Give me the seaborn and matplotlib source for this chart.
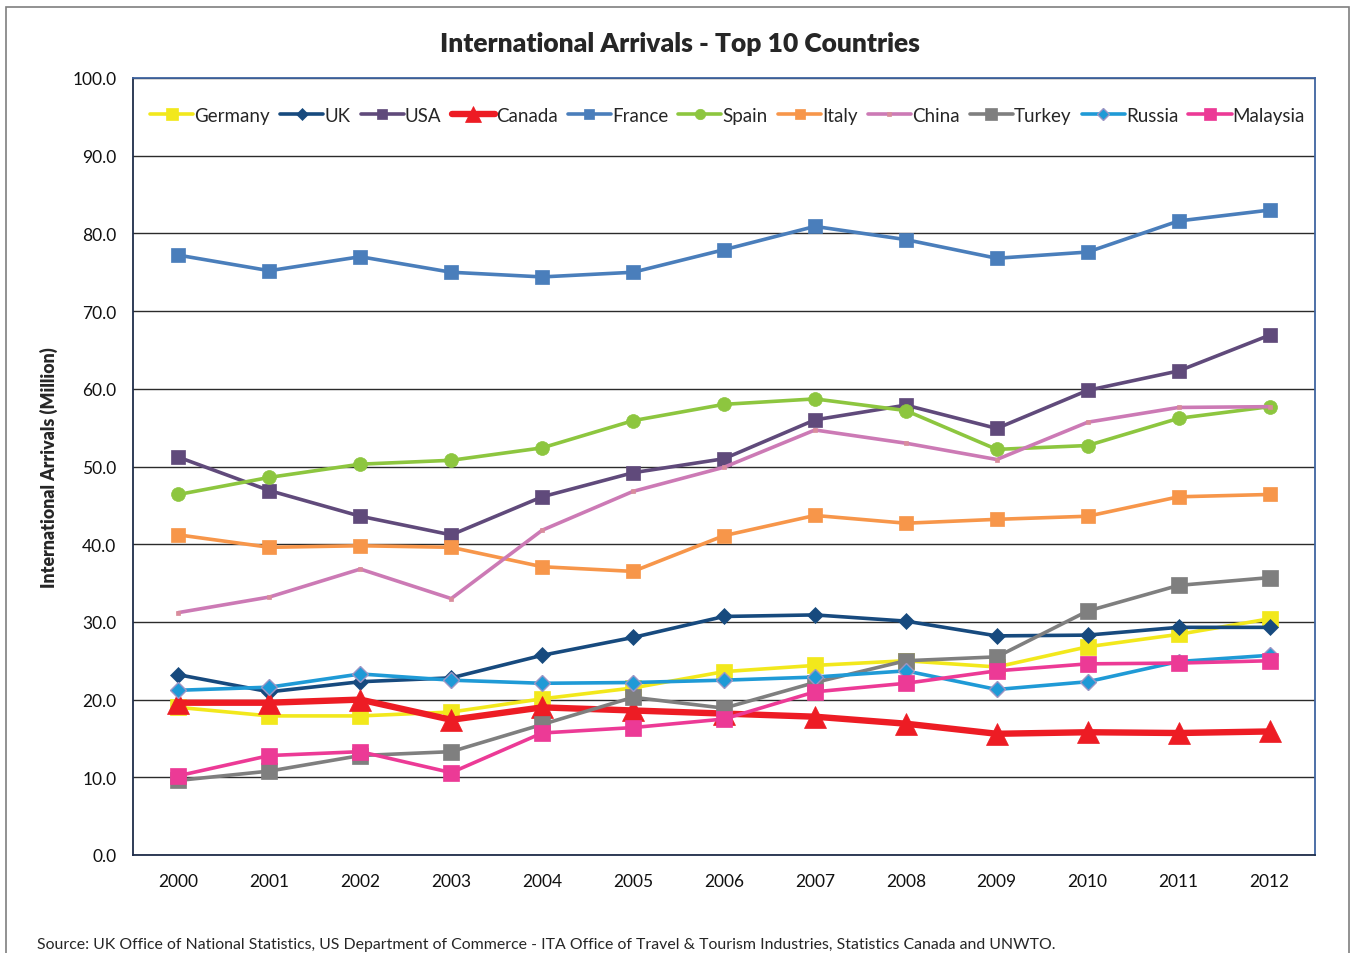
import matplotlib
matplotlib.use("Agg")
import matplotlib.pyplot as plt
from matplotlib.patches import Rectangle
from matplotlib.ticker import FixedLocator, FormatStrFormatter
import seaborn as sns
import pandas as pd

years = list(range(2000, 2013))

germany = [19.0, 17.9, 17.9, 18.4, 20.1, 21.5, 23.6, 24.4, 25.0, 24.2, 26.8, 28.4, 30.4]
uk = [23.2, 21.0, 22.3, 22.8, 25.7, 28.0, 30.7, 30.9, 30.1, 28.2, 28.3, 29.3, 29.3]
usa = [51.2, 46.9, 43.6, 41.2, 46.1, 49.2, 51.0, 56.0, 57.9, 54.9, 59.8, 62.3, 66.9]
canada = [19.6, 19.6, 20.0, 17.4, 19.0, 18.6, 18.2, 17.8, 16.9, 15.6, 15.8, 15.7, 15.9]
france = [77.2, 75.2, 77.0, 75.0, 74.4, 75.0, 77.9, 80.9, 79.2, 76.8, 77.6, 81.6, 83.0]
spain = [46.4, 48.6, 50.3, 50.8, 52.4, 55.9, 58.0, 58.7, 57.2, 52.2, 52.7, 56.2, 57.7]
italy = [41.2, 39.6, 39.8, 39.6, 37.1, 36.5, 41.1, 43.7, 42.7, 43.2, 43.6, 46.1, 46.4]
china = [31.2, 33.2, 36.8, 33.0, 41.8, 46.8, 49.9, 54.7, 53.0, 50.9, 55.7, 57.6, 57.7]
turkey = [9.6, 10.8, 12.8, 13.3, 16.8, 20.3, 18.9, 22.2, 25.0, 25.5, 31.4, 34.7, 35.7]
russia = [21.2, 21.6, 23.3, 22.5, 22.1, 22.2, 22.5, 22.9, 23.7, 21.3, 22.3, 24.9, 25.7]
malaysia = [10.2, 12.8, 13.3, 10.6, 15.7, 16.4, 17.5, 21.0, 22.1, 23.7, 24.6, 24.7, 25.0]

countries = ["Germany", "UK", "USA", "Canada", "France", "Spain",
             "Italy", "China", "Turkey", "Russia", "Malaysia"]
values = [germany, uk, usa, canada, france, spain, italy, china, turkey, russia, malaysia]

colors = {
    "Germany": "#F2E81C", "UK": "#174A7E", "USA": "#604A7B", "Canada": "#ED1C24",
    "France": "#4A7EBB", "Spain": "#8DC63F", "Italy": "#F7964A", "China": "#CC7AB5",
    "Turkey": "#7F7F7F", "Russia": "#1F9AD6", "Malaysia": "#EC3A96",
}
styles = {
    "Germany": dict(marker="s", ms=11, lw=2.6),
    "UK": dict(marker="D", ms=8, lw=2.6),
    "USA": dict(marker="s", ms=10, lw=2.6),
    "Canada": dict(marker="^", ms=16, lw=4.6),
    "France": dict(marker="s", ms=10, lw=2.6),
    "Spain": dict(marker="o", ms=10, lw=2.6),
    "Italy": dict(marker="s", ms=10, lw=2.6),
    "China": dict(marker="s", ms=3, lw=2.6),
    "Turkey": dict(marker="s", ms=11, lw=2.6),
    "Russia": dict(marker="D", ms=8, lw=2.6),
    "Malaysia": dict(marker="s", ms=11, lw=2.6),
}

df = pd.DataFrame({"Year": years, **dict(zip(countries, values))})

sns.set_style("white")
plt.rcParams["font.family"] = ["Lato", "DejaVu Sans"]

fig = plt.figure(figsize=(13.51, 9.54), dpi=100)
ax = fig.add_axes([133 / 1351, 1 - 856 / 954, (1315 - 133) / 1351, (856 - 79) / 954])

for name in countries:
    st = styles[name]
    mec = "#9C95C4" if name == "Russia" else ("#D98C9C" if name == "China" else colors[name])
    mfc = "#D98C9C" if name == "China" else colors[name]
    sns.lineplot(data=df, x="Year", y=name, ax=ax, color=colors[name],
                 linewidth=st["lw"], marker=st["marker"], markersize=st["ms"],
                 markerfacecolor=mfc, markeredgecolor=mec,
                 markeredgewidth=1.0 if name == "Russia" else 0.5,
                 label=name)

ax.set_xlim(1999.5, 2012.5)
ax.set_ylim(0, 100)
ax.yaxis.set_major_locator(FixedLocator([i * 10 for i in range(11)]))
ax.yaxis.set_major_formatter(FormatStrFormatter("%.1f"))
ax.set_xticks(years)
ax.set_xticklabels([str(y) for y in years])
ax.xaxis.set_minor_locator(FixedLocator([1999.5 + k for k in range(14)]))
ax.tick_params(axis="x", which="major", length=0, pad=13, labelsize=12.5, colors="#111111")
ax.tick_params(axis="x", which="minor", length=6, width=1, color="#1F2D4A", direction="out")
ax.tick_params(axis="y", which="major", length=6, width=1, color="#1F2D4A",
               direction="out", labelsize=12.5, pad=6, labelcolor="#111111")
ax.yaxis.grid(True, color="#2b2b2b", linewidth=1.0)
ax.xaxis.grid(False)
ax.set_axisbelow(True)

ax.spines["left"].set_color("#1F2D4A")
ax.spines["bottom"].set_color("#1F2D4A")
ax.spines["top"].set_color("#3F64A0")
ax.spines["right"].set_color("#3F64A0")
for s in ax.spines.values():
    s.set_linewidth(1.3)
    s.set_visible(True)

ax.set_xlabel("")
ax.set_ylabel("International Arrivals (Million)", fontsize=12.8, fontweight="heavy", labelpad=10)

ax.legend(loc="upper center", bbox_to_anchor=(0.503, 0.98), ncol=11, frameon=False,
          fontsize=13.5, handlelength=2.3, handletextpad=0.05, columnspacing=0.55,
          borderaxespad=0.3, markerscale=0.75)

fig.text(680 / 1351, 1 - 44 / 954, "International Arrivals - Top 10 Countries",
         ha="center", va="center", fontsize=19, fontweight="heavy")
fig.text(37 / 1351, 1 - 945 / 954,
         "Source: UK Office of National Statistics, US Department of Commerce - ITA Office of Travel & Tourism Industries, Statistics Canada and UNWTO.",
         ha="left", va="center", fontsize=11.4)

fig.patches.append(Rectangle((6 / 1351, -0.05), (1349 - 6) / 1351, 1.05 - 8 / 954,
                             transform=fig.transFigure, fill=False,
                             edgecolor="#7F7F7F", linewidth=1.2))

fig.savefig("out.png", dpi=100)
